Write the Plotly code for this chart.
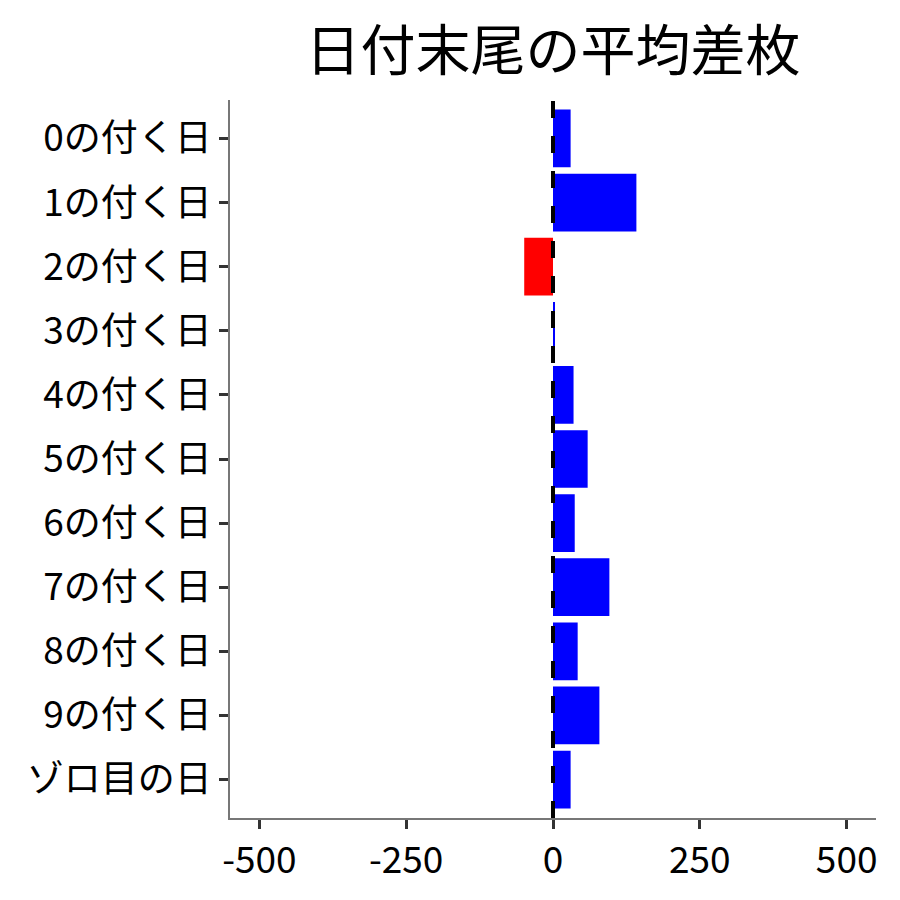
import plotly.graph_objects as go

categories = ["0の付く日", "1の付く日", "2の付く日", "3の付く日", "4の付く日",
              "5の付く日", "6の付く日", "7の付く日", "8の付く日", "9の付く日",
              "ゾロ目の日"]
avg_diff = [30, 142, -49, 2, 35, 59, 37, 96, 42, 79, 30]
x_ticks = [-500, -250, 0, 250, 500]

colors = ["#FF0000" if v < 0 else "#0000FF" for v in avg_diff]
font = "Noto Sans CJK JP"

fig = go.Figure()
fig.add_trace(go.Bar(x=avg_diff, y=categories, orientation="h",
                     marker=dict(color=colors, line=dict(width=0)),
                     width=0.9, showlegend=False))

# dashed zero line (drawn from the bottom up, like the original)
fig.add_shape(type="line", x0=0, x1=0, y0=0, y1=1, xref="x", yref="paper",
              line=dict(color="black", width=4, dash="17px,18px"))

fig.update_layout(
    width=900, height=900,
    margin=dict(l=222, r=32, t=92, b=90),
    plot_bgcolor="white", paper_bgcolor="white",
    font=dict(family=font, color="black", size=37),
    title=dict(text="日付末尾の平均差枚", x=0.5, xref="paper", xanchor="center",
               y=0.953, yanchor="middle", font=dict(size=55, color="black")),
)
axis_style = dict(showgrid=False, zeroline=False, showline=True, linecolor="#777777",
                  linewidth=1.5, ticks="outside", ticklen=9, tickwidth=2.5,
                  tickcolor="#333333", automargin=False)
fig.update_xaxes(range=[-550, 550], tickvals=x_ticks, ticktext=[str(t) for t in x_ticks],
                 **axis_style)
fig.update_yaxes(categoryorder="array", categoryarray=categories,
                 range=[len(categories) - 0.4, -0.6], **axis_style)

fig.write_html("out.html")
